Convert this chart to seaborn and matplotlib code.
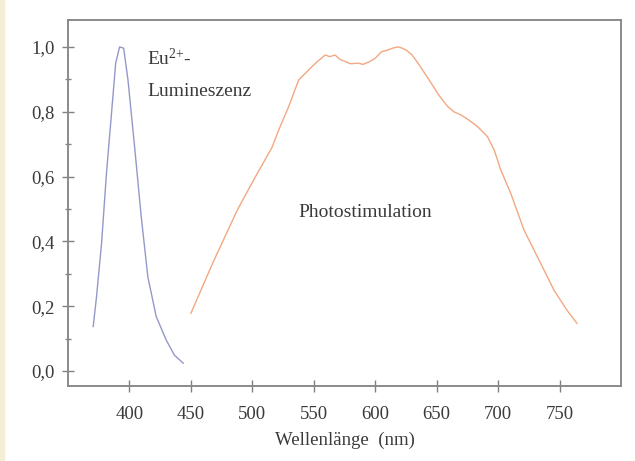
import matplotlib
matplotlib.use("Agg")
import matplotlib.pyplot as plt
import seaborn as sns
import pandas as pd
from matplotlib.ticker import MultipleLocator, FixedLocator, FuncFormatter

# Eu2+ luminescence (blue)
eu_wl = [370.5, 373.2, 377.3, 381.3, 385.4, 388.8, 392.0, 395.3, 398.8, 404.2,
         409.6, 415.0, 421.8, 429.9, 436.6, 443.9]
eu_int = [0.137, 0.229, 0.394, 0.610, 0.795, 0.950, 1.000, 0.996, 0.898, 0.692,
          0.476, 0.290, 0.168, 0.096, 0.049, 0.024]

# Photostimulation (orange)
ps_wl = [450.0, 467.6, 487.8, 502.6, 516.0, 521.5, 529.6, 537.7, 548.5, 553.0,
         559.3, 563.0, 567.4, 571.0, 575.5, 580.0, 586.2, 590.0, 595.7, 600.0,
         605.0, 610.0, 614.0, 618.6, 622.0, 625.3, 630.0, 634.8, 640.0, 645.6,
         652.0, 659.0, 664.0, 669.8, 676.0, 683.3, 691.4, 697.0, 702.2, 710.3,
         721.1, 731.9, 745.4, 756.0, 764.2]
ps_int = [0.178, 0.332, 0.497, 0.600, 0.690, 0.744, 0.816, 0.898, 0.939, 0.955,
          0.975, 0.970, 0.975, 0.962, 0.955, 0.948, 0.950, 0.946, 0.955, 0.965,
          0.985, 0.990, 0.996, 1.000, 0.996, 0.990, 0.975, 0.950, 0.920, 0.888,
          0.850, 0.816, 0.800, 0.790, 0.775, 0.754, 0.723, 0.680, 0.620, 0.548,
          0.435, 0.353, 0.250, 0.188, 0.147]

x_ticks = [400, 450, 500, 550, 600, 650, 700, 750]
y_ticks = [0.0, 0.2, 0.4, 0.6, 0.8, 1.0]

sns.set_style("white")
plt.rcParams["font.family"] = ["Liberation Serif", "DejaVu Serif"]
plt.rcParams["mathtext.fontset"] = "custom"
plt.rcParams["mathtext.rm"] = "Liberation Serif"
plt.rcParams["mathtext.it"] = "Liberation Serif"

df_eu = pd.DataFrame({"wl": eu_wl, "val": eu_int})
df_ps = pd.DataFrame({"wl": ps_wl, "val": ps_int})

fig = plt.figure(figsize=(6.35, 4.61), dpi=100)
fig.patches.append(plt.Rectangle((0, 0), 3.5 / 635, 1, transform=fig.transFigure,
                                 color="#f3efd6", zorder=0))
ax = fig.add_axes([68 / 635, 1 - 386 / 461, (621 - 68) / 635, (386 - 20) / 461])

sns.lineplot(data=df_eu, x="wl", y="val", ax=ax, color="#9498c8", linewidth=1.0)
sns.lineplot(data=df_ps, x="wl", y="val", ax=ax, color="#f2a880", linewidth=1.0)

ax.set_xlim(350, 800)
ax.set_ylim(-0.046, 1.083)
ax.xaxis.set_major_locator(FixedLocator(x_ticks))
ax.yaxis.set_major_locator(FixedLocator(y_ticks))
ax.yaxis.set_minor_locator(MultipleLocator(0.1))
ax.yaxis.set_major_formatter(FuncFormatter(lambda v, p: f"{v:.1f}".replace(".", ",")))

for s in ax.spines.values():
    s.set_color("#8a8a8a")
    s.set_linewidth(1.4)

tc = "#3a3a3a"
ax.tick_params(axis="both", which="major", direction="inout", length=9, width=1.0,
               color="#808080", labelsize=13.5, labelcolor=tc,
               left=True, bottom=True)
ax.tick_params(axis="y", which="major", pad=5)
ax.tick_params(axis="y", which="minor", direction="inout", length=5, width=1.0,
               color="#808080", left=True)
ax.tick_params(axis="x", which="major", pad=10)

ax.set_xlabel("Wellenlänge  (nm)", fontsize=13.5, color=tc, labelpad=6)
ax.set_ylabel("")

ax.text(414.5, 0.945, r"Eu$^{2{+}}$-", fontsize=14, color=tc)
ax.text(414.5, 0.85, "Lumineszenz", fontsize=14, color=tc)
ax.text(537.5, 0.49, "Photostimulation", fontsize=14, color=tc, va="center")

fig.savefig("out.png", dpi=100)
